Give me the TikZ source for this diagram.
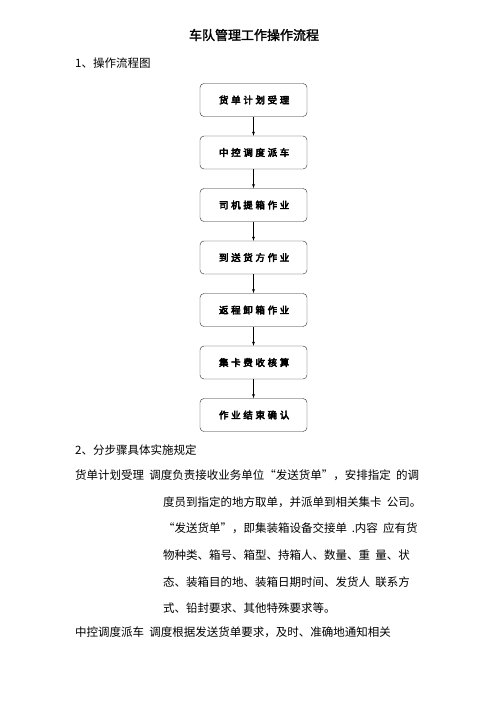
\documentclass[tikz,border=0pt]{standalone}
\usepackage{fontspec}
\setmainfont{Noto Sans CJK SC}[AutoFakeBold=2]
\newfontfamily\boxfont{Noto Sans CJK SC}[LetterSpace=28,FakeBold=4]
\usetikzlibrary{arrows}

\begin{document}
\begin{tikzpicture}
          [
            x=1pt, y=-1pt,
            stepbox/.style={draw=black!85, rounded corners=4pt, minimum width=107pt,
              minimum height=33pt, inner sep=0pt, font=\boxfont\fontsize{9.5}{11}\selectfont},
            line/.style={anchor=west, inner sep=0pt, font=\fontsize{11.5}{13}\selectfont},
            flow/.style={-latex, thin}
          ]
          \useasboundingbox (0,0) rectangle (500,707);
          % title
          \node [font=\bfseries\fontsize{13}{15}\selectfont] (title) at (254,35) {车队管理工作操作流程};
          \node [line] (h1) at (75,63) {1、操作流程图};
          % flow boxes
          \foreach \i/\t in {1/货单计划受理,2/中控调度派车,3/司机提箱作业,4/到送货方作业,
                             5/返程卸箱作业,6/集卡费收核算,7/作业结束确认} {
              \node [stepbox] (s\i) at (253.5,{100+52.5*(\i-1)}) {\hspace{1.3pt}\t};
          }
          % flow arrows
          \foreach \i [evaluate=\i as \j using int(\i+1)] in {1,...,6} {
              \draw [flow] (s\i) -- (s\j);
          }
          % steps text
          \node [line] (h2) at (75,450) {2、分步骤具体实施规定};
          \node [line] (p1) at (75,475) {货单计划受理\hspace{0.45em}调度负责接收业务单位“发送货单”，安排指定\hspace{0.45em}的调};
          \node [line] (p2) at (163,502) {度员到指定的地方取单，并派单到相关集卡\hspace{0.45em}公司。};
          \node [line] (p3) at (163,528) {“发送货单”，即集装箱设备交接单\hspace{0.4em}.内容\hspace{0.45em}应有货};
          \node [line] (p4) at (163,555) {物种类、箱号、箱型、持箱人、数量、重\hspace{0.45em}量、状};
          \node [line] (p5) at (163,582) {态、装箱目的地、装箱日期时间、发货人\hspace{0.45em}联系方};
          \node [line] (p6) at (163,608) {式、铅封要求、其他特殊要求等。};
          \node [line] (p7) at (75,632) {中控调度派车\hspace{0.45em}调度根据发送货单要求，及时、准确地通知相关};
        \end{tikzpicture}
\end{document}
